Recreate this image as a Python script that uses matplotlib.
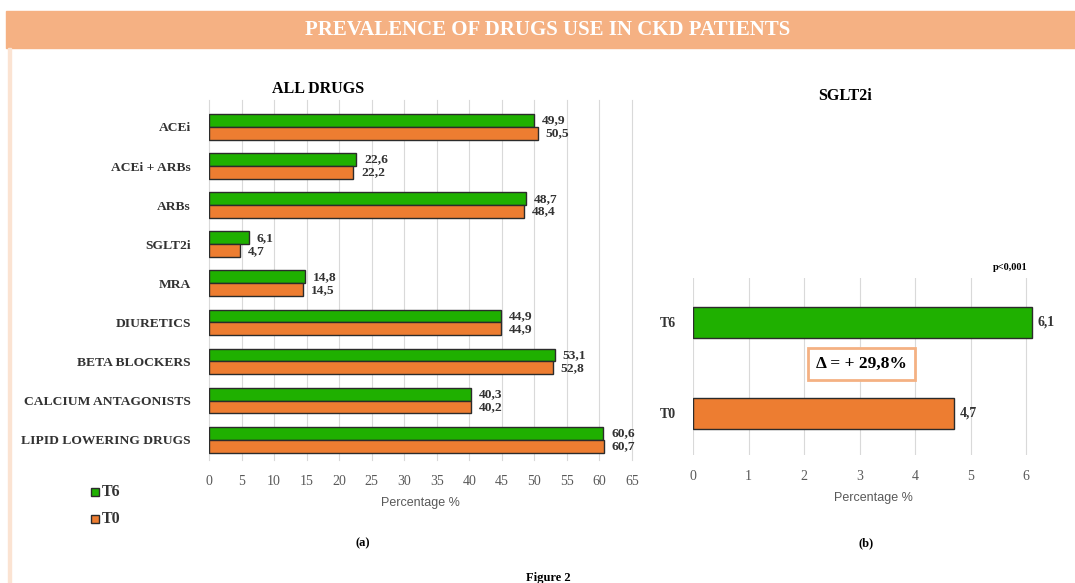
import numpy as np
import matplotlib.pyplot as plt
from matplotlib.patches import Rectangle

# data
drugs = ["ACEi", "ACEi + ARBs", "ARBs", "SGLT2i", "MRA", "DIURETICS",
         "BETA BLOCKERS", "CALCIUM ANTAGONISTS", "LIPID LOWERING DRUGS"]
t6_all = [49.9, 22.6, 48.7, 6.1, 14.8, 44.9, 53.1, 40.3, 60.6]
t0_all = [50.5, 22.2, 48.4, 4.7, 14.5, 44.9, 52.8, 40.2, 60.7]
sglt_labels = ["T6", "T0"]
sglt_vals = [6.1, 4.7]

GREEN = "#1fb000"
ORANGE = "#ed7d31"
BANNER = "#f5b183"
EDGE = "#2b2b2b"
SERIF = "Liberation Serif"
SANS = "Liberation Sans"

def fmt(v):
    return "{:.1f}".format(v).replace(".", ",")

fig = plt.figure(figsize=(10.75, 5.83), dpi=100)
W, H = 1075, 583

def fx(px):
    return px / W

def fy(py):
    return 1 - py / H

# banner + left border
fig.patches.append(Rectangle((fx(6), fy(48)), fx(1075 - 6), fy(11) - fy(48),
                             transform=fig.transFigure, color=BANNER, zorder=0))
fig.patches.append(Rectangle((fx(8), 0), fx(3), fy(48),
                             transform=fig.transFigure, color="#fbe3d2", zorder=0))
fig.text(fx(548), fy(30), "PREVALENCE OF DRUGS USE IN CKD PATIENTS", color="white",
         family=SERIF, weight="bold", fontsize=15, ha="center", va="center")

# ---- left panel: all drugs
ax1 = fig.add_axes([fx(209), fy(460), fx(632 - 209), fy(100) - fy(460)])
y = np.arange(len(drugs))
bh = 0.33
ax1.barh(y - bh / 2, t6_all, height=bh, color=GREEN, edgecolor=EDGE, linewidth=1, zorder=3)
ax1.barh(y + bh / 2, t0_all, height=bh, color=ORANGE, edgecolor=EDGE, linewidth=1, zorder=3)
for i in range(len(drugs)):
    ax1.text(t6_all[i] + 1.2, y[i] - bh / 2, fmt(t6_all[i]), va="center", ha="left",
             family=SERIF, weight="bold", fontsize=9.7, color="#333333")
    ax1.text(t0_all[i] + 1.2, y[i] + bh / 2, fmt(t0_all[i]), va="center", ha="left",
             family=SERIF, weight="bold", fontsize=9.7, color="#333333")
ax1.set_xlim(0, 65)
ax1.set_ylim(8.52, -0.69)
ax1.set_xticks(np.arange(0, 66, 5))
ax1.set_yticks(y)
ax1.set_yticklabels(drugs, family=SERIF, weight="bold", fontsize=9.7, color="#333333")
ax1.tick_params(axis="y", length=0, pad=13)
ax1.tick_params(axis="x", length=0, pad=11, labelsize=10, labelcolor="#595959")
for lab in ax1.get_xticklabels():
    lab.set_family(SERIF)
ax1.grid(axis="x", color="#d9d9d9", linewidth=0.8, zorder=0)
for gl in ax1.get_xgridlines():
    gl.set_clip_on(False)
for s in ax1.spines.values():
    s.set_visible(False)
ax1.set_xlabel("Percentage %", family=SANS, fontsize=9, color="#595959", labelpad=6)
fig.text(fx(318), fy(89), "ALL DRUGS", family=SERIF, weight="bold", fontsize=11.5,
         ha="center", va="center")

# legend
for py, col, lab in [(492, GREEN, "T6"), (519, ORANGE, "T0")]:
    fig.patches.append(Rectangle((fx(91), fy(py + 4)), fx(8), fy(py - 4) - fy(py + 4),
                                 transform=fig.transFigure, facecolor=col,
                                 edgecolor=EDGE, linewidth=1))
    fig.text(fx(102), fy(py), lab, family=SERIF, weight="bold", fontsize=11.5,
             color="#333333", ha="left", va="center")

fig.text(fx(363), fy(543), "(a)", family=SERIF, weight="bold", fontsize=9,
         ha="center", va="center")

# ---- right panel: SGLT2i
ax2 = fig.add_axes([fx(693), fy(455), fx(1054 - 693), fy(278) - fy(455)])
y2 = np.arange(len(sglt_labels))
ax2.barh(y2, sglt_vals, height=0.34, color=[GREEN, ORANGE], edgecolor=EDGE,
         linewidth=1, zorder=3)
for i in range(len(sglt_vals)):
    ax2.text(sglt_vals[i] + 0.1, y2[i], fmt(sglt_vals[i]), va="center", ha="left",
             family=SERIF, weight="bold", fontsize=10, color="#333333")
ax2.set_xlim(0, 6.5)
ax2.set_ylim(1.46, -0.484)
ax2.set_xticks(np.arange(0, 7, 1))
ax2.set_yticks(y2)
ax2.set_yticklabels(sglt_labels, family=SERIF, weight="bold", fontsize=10, color="#333333")
ax2.tick_params(axis="y", length=0, pad=12)
ax2.tick_params(axis="x", length=0, pad=11, labelsize=10, labelcolor="#595959")
for lab in ax2.get_xticklabels():
    lab.set_family(SERIF)
ax2.grid(axis="x", color="#d9d9d9", linewidth=0.8, zorder=0)
for s in ax2.spines.values():
    s.set_visible(False)
ax2.set_xlabel("Percentage %", family=SANS, fontsize=9, color="#595959", labelpad=6)
ax2.text(3.03, 0.46, "\u0394 = + 29,8%", family=SERIF, weight="bold", fontsize=12.5,
         ha="center", va="center", zorder=5,
         bbox=dict(boxstyle="square,pad=0.45", facecolor="white",
                   edgecolor="#f4b183", linewidth=2))
fig.text(fx(1010), fy(267), "p<0,001", family=SERIF, weight="bold", fontsize=7.5,
         ha="center", va="center")
fig.text(fx(845), fy(96), "SGLT2i", family=SERIF, weight="bold", fontsize=11.5,
         ha="center", va="center")
fig.text(fx(866), fy(543), "(b)", family=SERIF, weight="bold", fontsize=9,
         ha="center", va="center")

fig.text(fx(548), fy(578), "Figure 2", family=SERIF, weight="bold", fontsize=9,
         ha="center", va="center")

plt.savefig("out.png", dpi=100)
